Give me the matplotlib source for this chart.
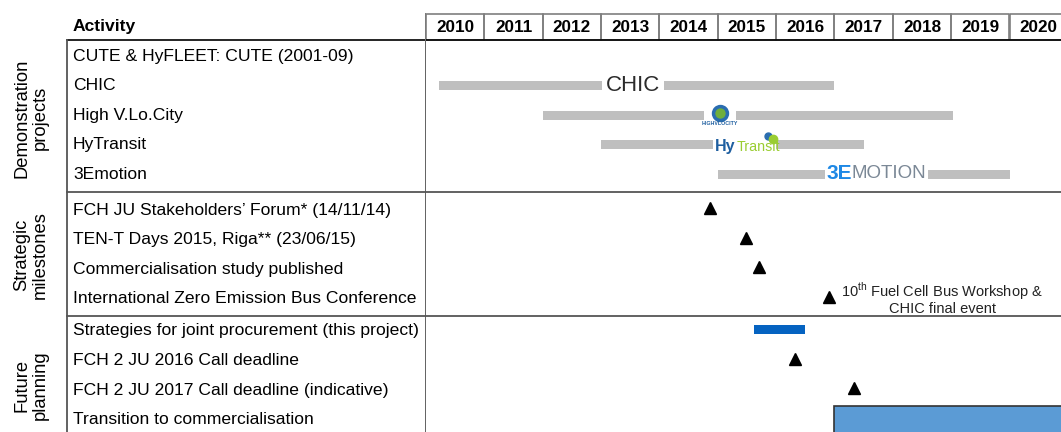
import matplotlib.pyplot as plt
from matplotlib.patches import Rectangle

plt.rcParams['font.family'] = ['Liberation Sans', 'DejaVu Sans']
plt.rcParams['mathtext.fontset'] = 'custom'
plt.rcParams['mathtext.rm'] = 'Liberation Sans'

years = list(range(2010, 2021))

sections = ["Demonstration\nprojects", "Strategic\nmilestones", "Future\nplanning"]

activities = [
    "CUTE & HyFLEET: CUTE (2001-09)",
    "CHIC",
    "High V.Lo.City",
    "HyTransit",
    "3Emotion",
    "FCH JU Stakeholders\u2019 Forum* (14/11/14)",
    "TEN-T Days 2015, Riga** (23/06/15)",
    "Commercialisation study published",
    "International Zero Emission Bus Conference",
    "Strategies for joint procurement (this project)",
    "FCH 2 JU 2016 Call deadline",
    "FCH 2 JU 2017 Call deadline (indicative)",
    "Transition to commercialisation",
]

# project bars (row index, start, end)
project_rows = [1, 2, 3, 4]
project_start = [2010.22, 2012.0, 2013.0, 2015.0]
project_end = [2017.0, 2019.03, 2017.5, 2020.0]

# milestones (row index, date)
milestone_rows = [5, 6, 7, 8, 10, 11]
milestone_dates = [2014.87, 2015.48, 2015.70, 2016.91, 2016.33, 2017.33]

procure_start, procure_end = 2015.62, 2016.5
transition_start = 2017.0

# ---- layout (pixels) ----
W, H = 1061, 432
x_tab, x_time = 67, 426
px_per_year = 58.35
row_top = [56, 210, 331]
pitch = 29.6
sep_y = [192, 316]


def row_y(i):
    s = 0 if i < 5 else (1 if i < 9 else 2)
    first = [0, 5, 9][s]
    return row_top[s] + (i - first) * pitch


fig = plt.figure(figsize=(W / 100, H / 100), dpi=100)
axl = fig.add_axes([0, 0, x_time / W, 1])
axl.set_xlim(0, x_time)
axl.set_ylim(H, 0)
axl.axis('off')

axt = fig.add_axes([x_time / W, 0, 1 - x_time / W, 1])
axt.set_xlim(2010, 2010 + (W - x_time) / px_per_year)
axt.set_ylim(H, 0)
axt.axis('off')

fs = 12.6

# header
axl.text(x_tab + 6, 27, "Activity", fontsize=fs, fontweight='bold', va='center')
for y in years:
    axt.add_patch(Rectangle((y, 14), 1, 26, fill=False, ec='#7f7f7f', lw=1.2, clip_on=False))
    axt.text(y + 0.5, 27, str(y), fontsize=12.3, fontweight='bold', ha='center', va='center')

# grid lines
axl.plot([x_tab, x_time], [40, 40], color='black', lw=1.2)
axt.plot([2010, 2030], [40, 40], color='black', lw=1.2)
for sy in sep_y:
    axl.plot([x_tab, x_time], [sy, sy], color='#555555', lw=1.3)
    axt.plot([2010, 2030], [sy, sy], color='#555555', lw=1.3)
axl.plot([x_tab, x_tab], [40, H], color='#555555', lw=1.3)
axl.plot([x_time - 0.5, x_time - 0.5], [14, H], color='#555555', lw=1.3)

# activity labels
for i, a in enumerate(activities):
    axl.text(x_tab + 6, row_y(i), a, fontsize=fs, va='center')

# section labels
sec_centers = [118, 255, 385]
for s, c in zip(sections, sec_centers):
    axl.text(31, c, s, fontsize=13.2, rotation=90, ha='center', va='center', linespacing=1.05)

# project bars
for r, s0, s1 in zip(project_rows, project_start, project_end):
    axt.barh(row_y(r), s1 - s0, left=s0, height=9, color='#bfbfbf', zorder=2)

# logos (approximations)
wb = dict(facecolor='white', edgecolor='none', pad=1)
axt.text(2013.55, row_y(1), "CHIC", fontsize=16, color='#2b2b2b', ha='center', va='center',
         bbox=dict(facecolor='white', edgecolor='none', pad=2.5), zorder=3)
axt.add_patch(Rectangle((2015.04 - 0.28, row_y(2) - 6), 0.56, 12, facecolor='white',
                        edgecolor='none', zorder=3))
axt.plot([2015.04], [row_y(2) - 2.5], 'o', ms=10, color='#6fae3c', mec='#2a6db0', mew=2.5, zorder=4)
axt.text(2015.04, row_y(2) + 8, "HIGHVLOCITY", fontsize=3.8, color='#1f5fa0', fontweight='bold',
         ha='center', va='center', zorder=4)
axt.add_patch(Rectangle((2014.92, row_y(3) - 6), 1.08, 12, facecolor='white',
                        edgecolor='none', zorder=3))
axt.text(2015.31, row_y(3) + 2, "Hy", fontsize=11.5, color='#1f5fa0', fontweight='bold',
         ha='right', va='center', zorder=4)
axt.text(2015.32, row_y(3) + 2, "Transit", fontsize=10.3, color='#9acd32', ha='left', va='center',
         zorder=4)
axt.plot([2015.86], [row_y(3) - 9], 'o', ms=5, color='#2a6db0', zorder=4)
axt.plot([2015.94], [row_y(3) - 6], 'o', ms=6, color='#9acd32', zorder=4)
axt.text(2017.30, row_y(4) - 1, "3E", fontsize=15, color='#1e88e5', fontweight='bold',
         ha='right', va='center', bbox=wb, zorder=3)
axt.text(2017.30, row_y(4) - 1, "MOTION", fontsize=13.5, color='#7b8896', ha='left', va='center',
         bbox=wb, zorder=3)

# milestones
axt.plot(milestone_dates, [row_y(r) - 2 for r in milestone_rows], '^', color='black', ms=9,
         linestyle='none', zorder=3)
axt.text(2018.85, row_y(8) - 0.5, "10$^{\\mathrm{th}}$ Fuel Cell Bus Workshop &\nCHIC final event",
         fontsize=10.5, ha='center', va='center', linespacing=0.95, color='#222222')

# future planning
axt.barh(row_y(9) - 2, procure_end - procure_start, left=procure_start, height=9,
         color='#0563c1', zorder=2)
axt.add_patch(Rectangle((transition_start, 406), 10, 40, facecolor='#5b9bd5', edgecolor='#333333',
                        lw=1.2, zorder=2))

fig.savefig("out.png", dpi=100)
